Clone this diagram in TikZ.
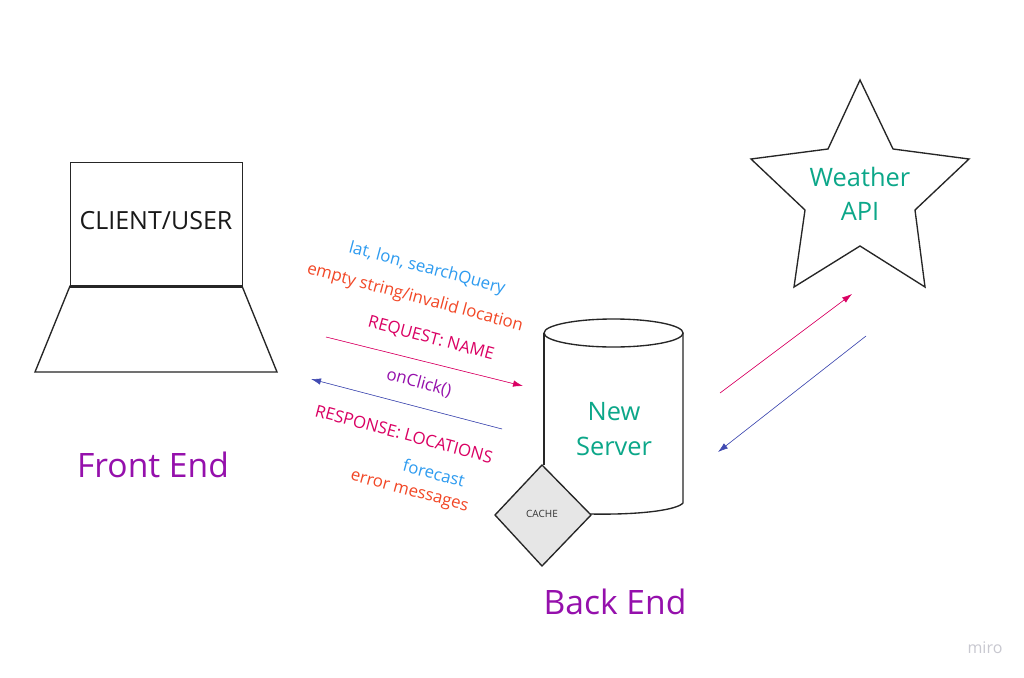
\documentclass[tikz,border=0pt]{standalone}
\usepackage{fontspec}
\setmainfont{Open Sans}
\usetikzlibrary{arrows.meta}
\definecolor{cblue}{HTML}{2D9BF0}
\definecolor{corange}{HTML}{F24726}
\definecolor{cpink}{HTML}{DA0063}
\definecolor{cpurple}{HTML}{9510AC}
\definecolor{cindigo}{HTML}{414BB2}
\definecolor{cgreen}{HTML}{0CA789}
\definecolor{cgrey}{HTML}{E6E6E6}
\definecolor{cmiro}{HTML}{C8C8D0}
\tikzset{
  shapeline/.style={draw=black!85,line width=1.35pt,line join=miter},
  lab/.style={inner sep=0pt,font=\fontsize{16.8}{18}\selectfont,rotate=-15},
  arr/.style={line width=0.6pt,-{Latex[length=10pt,width=6.5pt]}},
  big/.style={inner sep=0pt,text=cpurple,font=\fontsize{33.6}{38}\selectfont},
  srv/.style={inner sep=0pt,text=cgreen,font=\fontsize{25.4}{34.5}\selectfont,align=center}
}
\begin{document}
\begin{tikzpicture}[x=1pt,y=-1pt]
\useasboundingbox (0,0) rectangle (1024,677);
\fill[white] (0,0) rectangle (1024,677);
% laptop
\node[shapeline,minimum width=172pt,minimum height=124pt,inner sep=0pt,anchor=north west] (screen) at (70,162) {};
\node[inner sep=0pt,text=black!90,font=\fontsize{25}{28}\selectfont] (client) at (156,221) {CLIENT/USER};
\draw[shapeline] (70,286) -- (242,286) -- (277,372) -- (35,372) -- cycle;
\draw[black!85,line width=3pt] (70,286) -- (242,286);
\node[big] (fe) at (153,465) {Front End};
% star
\draw[shapeline] (860,80) -- (893,149) -- (969,159) -- (915,210) -- (925,287) -- (860,246) -- (794,287) -- (805,210) -- (751,159) -- (828,149) -- cycle;
\node[srv] (api) at (860,194) {Weather\\API};
% server
\draw[shapeline] (613.5,333) ellipse [x radius=69.5,y radius=14];
\draw[shapeline] (683,333) -- (683,503) .. controls (677,510) and (640,515) .. (590,514);
\draw[shapeline] (544,333) -- (544,465);
\node[srv] (server) at (614,429) {New\\Server};
\draw[shapeline,fill=cgrey] (542,465) -- (591,515) -- (542,566) -- (495,515) -- cycle;
\node[inner sep=0pt,font=\fontsize{10}{12}\selectfont,text=black!80] (cache) at (542,514) {CACHE};
\node[big] (be) at (615,602) {Back End};
% labels
\node[lab,text=cblue] (l1) at (427,269) {lat, lon, searchQuery};
\node[lab,text=corange] (l2) at (415,298) {empty string/invalid location};
\node[lab,text=cpink] (l3) at (431,339) {REQUEST: NAME};
\node[lab,text=cpurple] (l4) at (419,383) {onClick()};
\node[lab,text=cpink] (l5) at (404,434) {RESPONSE: LOCATIONS};
\node[lab,text=cblue] (l6) at (434,473) {forecast};
\node[lab,text=corange] (l7) at (409,493) {error messages};
% arrows
\coordinate (a1) at (326,337); \coordinate (a2) at (523,386);
\coordinate (b1) at (502,429); \coordinate (b2) at (311,379);
\coordinate (c1) at (720,393); \coordinate (c2) at (852,294);
\coordinate (d1) at (866,336); \coordinate (d2) at (718,452);
\draw[arr,draw=cpink,fill=cpink] (a1) -- (a2);
\draw[arr,draw=cindigo,fill=cindigo] (b1) -- (b2);
\draw[arr,draw=cpink,fill=cpink] (c1) -- (c2);
\draw[arr,draw=cindigo,fill=cindigo] (d1) -- (d2);
\node[inner sep=0pt,text=cmiro,font=\fontsize{16}{18}\selectfont] (miro) at (985,648) {miro};
\end{tikzpicture}
\end{document}
